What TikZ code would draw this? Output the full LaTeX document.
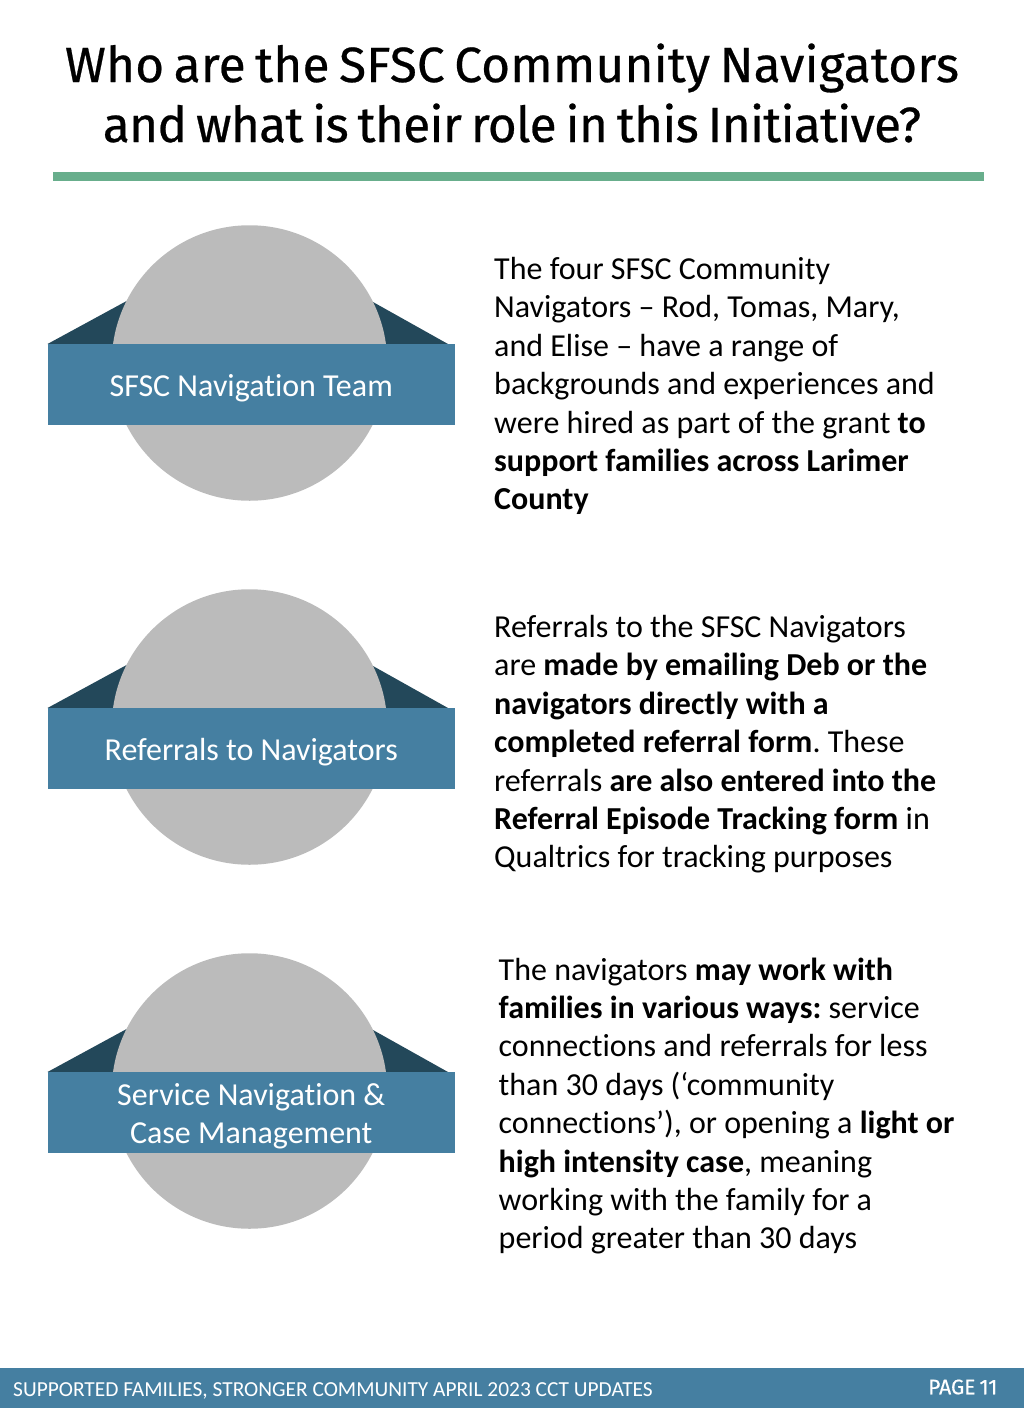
\documentclass[tikz,border=0pt]{standalone}
\usepackage{fontspec}
\setmainfont[Ligatures={NoCommon}]{Carlito}
\newfontfamily\titlefont[FakeBold=0.5,WordSpace=0.72]{Fira Sans}
\frenchspacing
\definecolor{barblue}{HTML}{457FA1}
\definecolor{wingdark}{HTML}{23485A}
\definecolor{discgray}{HTML}{BBBBBB}
\definecolor{rulegreen}{HTML}{68AE8C}
\tikzset{
  disc/.style={circle,fill=discgray,minimum size=275.5pt,inner sep=0pt},
  bandlabel/.style={inner sep=0pt,text=white,align=center,font=\fontsize{32}{38.4}\selectfont},
  band/.style={bandlabel,fill=barblue,minimum width=407.5pt,minimum height=81pt,
    execute at begin node={\rule{0pt}{29pt}}},
  wing/.style={fill=wingdark},
  para/.style={anchor=north west,inner sep=0pt,align=left,font=\fontsize{32}{38.4}\selectfont},
}
\begin{document}
\begin{tikzpicture}[x=1pt,y=-1pt]
      \useasboundingbox (0,0) rectangle (1024,1408);
      \node[inner sep=0pt,align=center,font=\titlefont\fontsize{49.5}{60}\selectfont] (title) at (512,93)
        {\addfontfeature{LetterSpace=0.4}Who are the SFSC Community Navigators\\\addfontfeature{LetterSpace=-1.35}and what is their role in this Initiative?};
      \node[fill=rulegreen,minimum width=931pt,minimum height=8.5pt,inner sep=0pt] (rule) at (518,176.5) {};
      % first row
      \fill[wing] (47.5,344) -- (127.5,300.5) -- (250,344) -- cycle;
      \fill[wing] (448,344) -- (373,302) -- (250,344) -- cycle;
      \node[disc] (disc1) at (249.5,363) {};
      \node[band] (band1) at (251.25,384.5) {SFSC Navigation Team};
      \node[para] (text1) at (494,257) {The four SFSC Community\\Navigators -- Rod, Tomas, Mary,\\and Elise -- have a range of\\backgrounds and experiences and\\were hired as part of the grant \textbf{to}\\\textbf{support families across Larimer}\\\textbf{County}};
      % second row
      \fill[wing] (47.5,708) -- (127.5,664.5) -- (250,708) -- cycle;
      \fill[wing] (448,708) -- (373,666) -- (250,708) -- cycle;
      \node[disc] (disc2) at (249.5,727) {};
      \node[band] (band2) at (251.25,748.5) {Referrals to Navigators};
      \node[para] (text2) at (494,615) {Referrals to the SFSC Navigators\\are \textbf{made by emailing Deb or the}\\\textbf{navigators directly with a}\\\textbf{completed referral form}. These\\referrals \textbf{are also entered into the}\\\textbf{Referral Episode Tracking form} in\\Qualtrics for tracking purposes};
      % third row
      \fill[wing] (47.5,1072) -- (127.5,1028.5) -- (250,1072) -- cycle;
      \fill[wing] (448,1072) -- (373,1030) -- (250,1072) -- cycle;
      \node[disc] (disc3) at (249.5,1091) {};
      \node[band] (band3) at (251.25,1112.5) {};
      \node[bandlabel] (label3) at (251.25,1116.5) {Service Navigation \&\\Case Management};
      \node[para] (text3) at (498.5,957.5) {The navigators \textbf{may work with}\\\textbf{families in various ways:} service\\connections and referrals for less\\than 30 days (‘community\\connections’), or opening a \textbf{light or}\\\textbf{high intensity case}, meaning\\working with the family for a\\period greater than 30 days};
      % footer
      \node[fill=barblue,minimum width=1024pt,minimum height=40pt,inner sep=0pt] (foot) at (512,1388) {};
      \node[anchor=west,inner sep=0pt,text=white,font=\fontsize{21.4}{24}\selectfont] (footleft) at (13,1390.5) {SUPPORTED FAMILIES, STRONGER COMMUNITY APRIL 2023 CCT UPDATES};
      \node[anchor=west,inner sep=0pt,text=white,font=\titlefont\fontsize{21}{24}\selectfont] (footpage) at (928,1387) {PAGE 11};
\end{tikzpicture}
\end{document}
